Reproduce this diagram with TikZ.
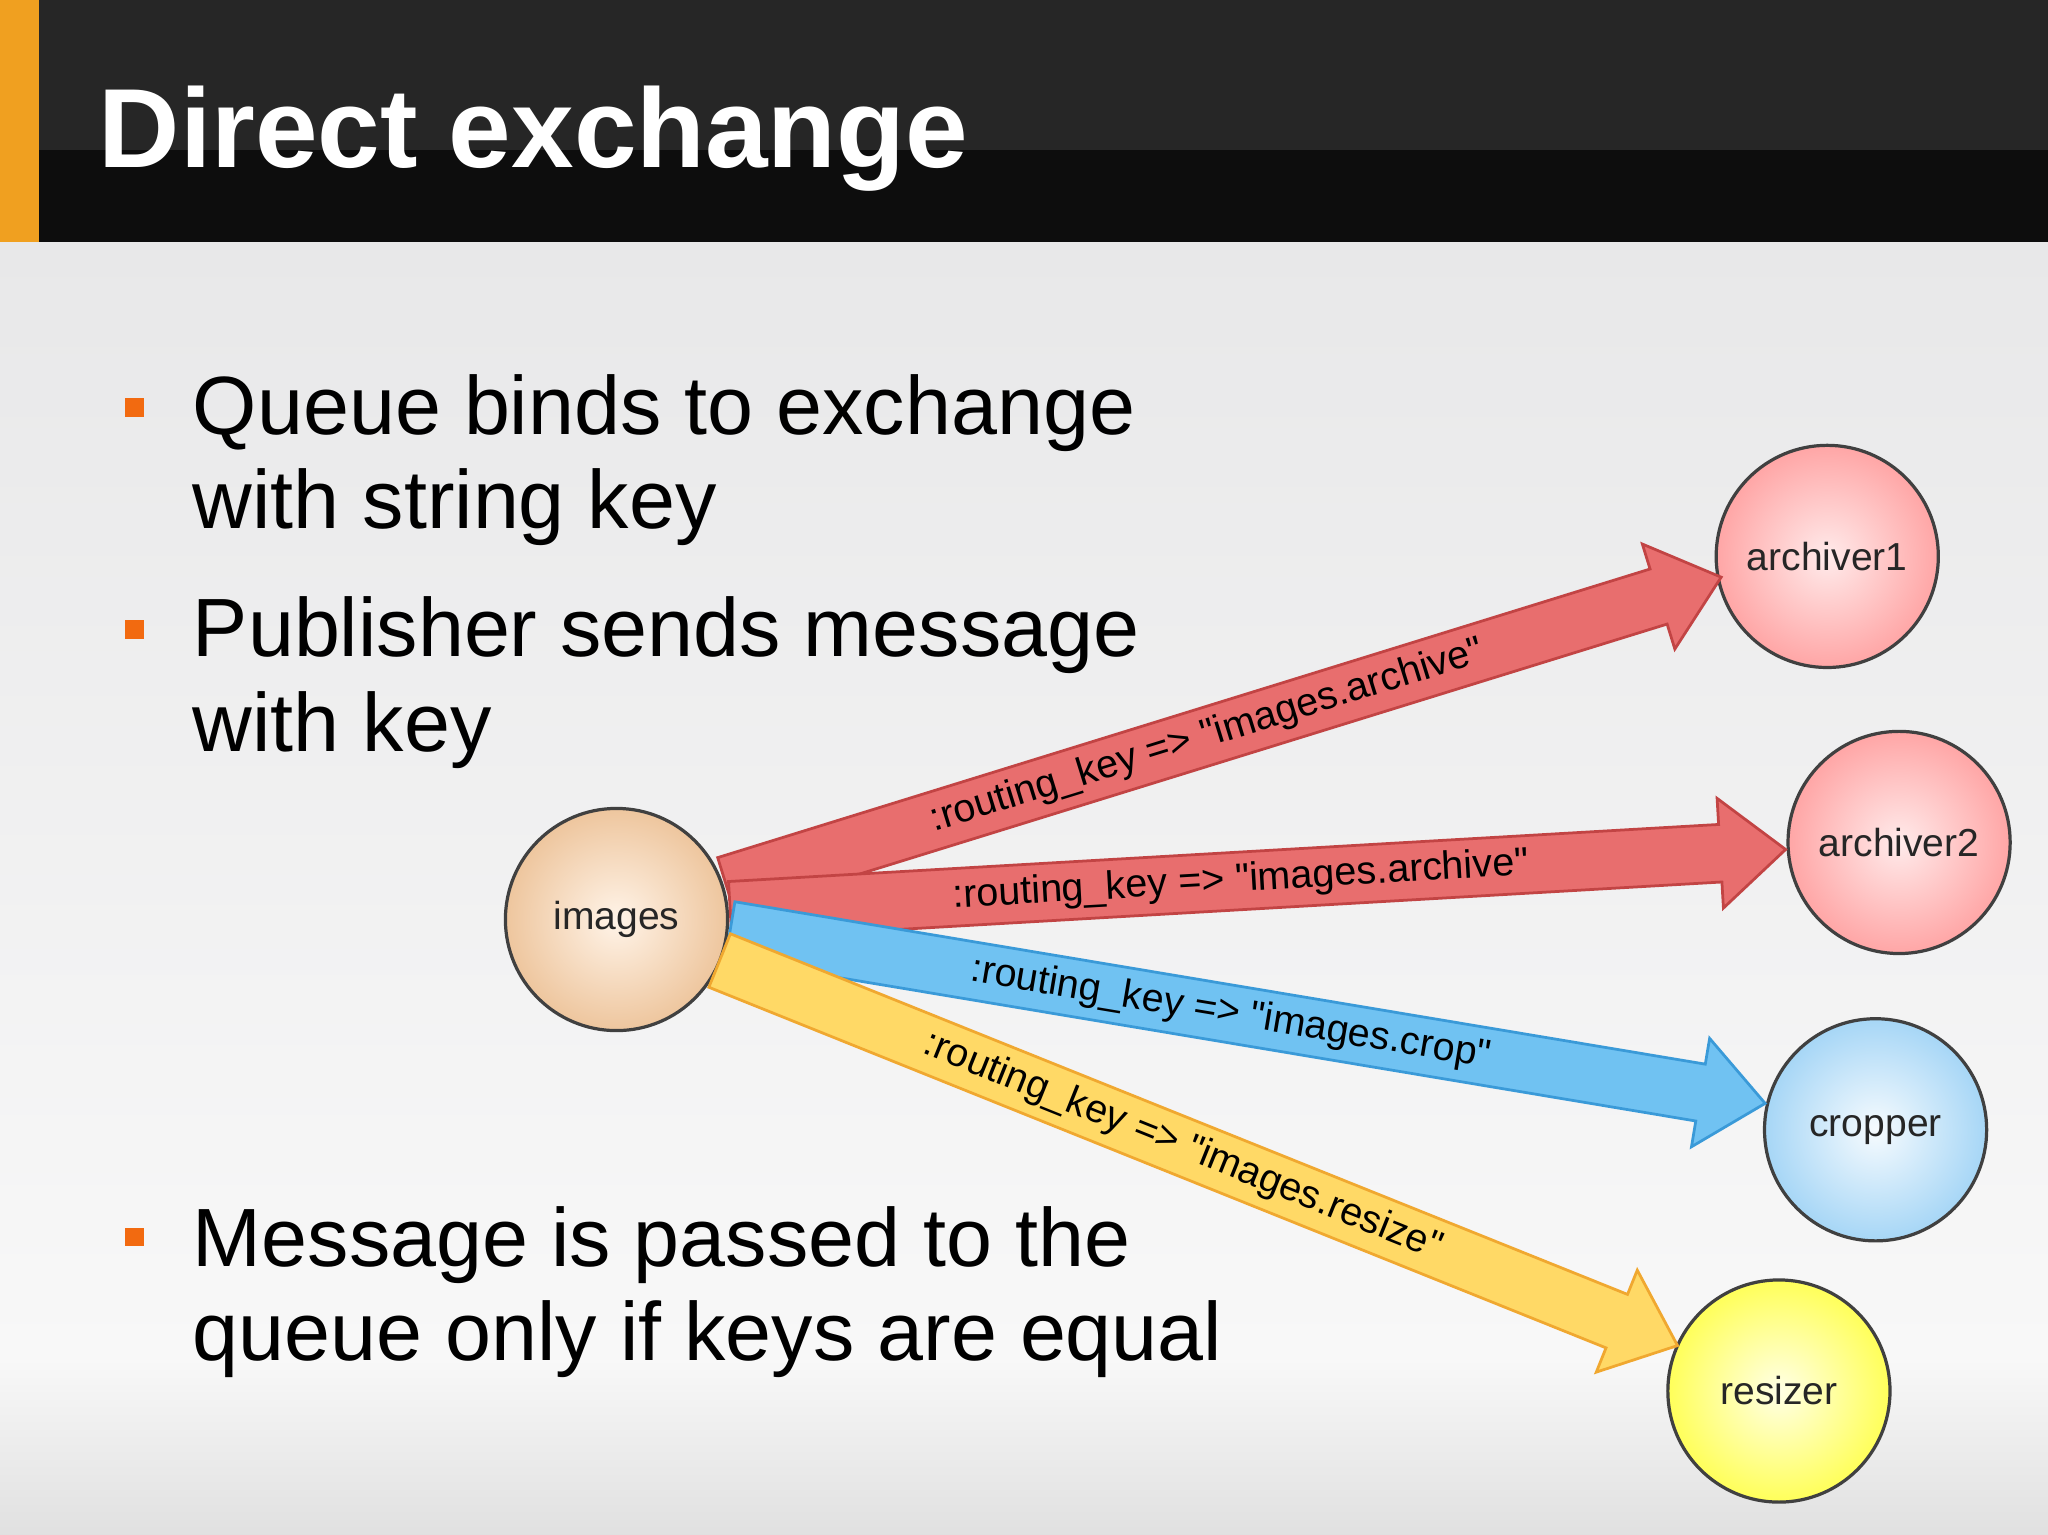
\documentclass[tikz,border=0pt]{standalone}
\usepackage{fontspec}
\setmainfont{Liberation Sans}
\usetikzlibrary{shapes.arrows}
\definecolor{bgtop}{HTML}{E8E8E9}
\definecolor{bgbot}{HTML}{F8F8F8}
\definecolor{orng}{HTML}{F0A020}
\definecolor{bul}{HTML}{F26A10}
\definecolor{redf}{HTML}{E86E6E}
\definecolor{redd}{HTML}{C24444}
\definecolor{bluf}{HTML}{70C2F2}
\definecolor{blud}{HTML}{3A9AD8}
\definecolor{yelf}{HTML}{FFD966}
\definecolor{yeld}{HTML}{F0A830}
\definecolor{crout}{HTML}{A6D6F6}
\newcommand{\qq}{\textquotedbl}
\begin{document}
\begin{tikzpicture}[x=0.01cm,y=-0.01cm,
  qnode/.style={circle,minimum size=1.7cm,draw=black!75,line width=0.7pt,font=\fontsize{8.5pt}{10pt}\selectfont,text=black!85},
  barrow/.style={single arrow,anchor=tail,minimum width=0.8cm,single arrow head extend=0.2cm,
     single arrow tip angle=80,inner xsep=0pt,inner ysep=0.06cm,text height=0.23cm,text depth=0.07cm,
     font=\fontsize{8.6pt}{10pt}\selectfont,line width=0.6pt},
  btext/.style={font=\fontsize{18pt}{22pt}\selectfont,anchor=base west,inner sep=0pt},
  bsq/.style={fill=bul,minimum size=0.14cm,inner sep=0pt}]
\useasboundingbox (0,0) rectangle (1568,1175);
\shade[top color=bgtop,bottom color=bgbot] (0,185) rectangle (1568,1040);
\shade[top color=bgbot,bottom color=black!12] (0,1040) rectangle (1568,1175);
\fill[black!95] (0,0) rectangle (1568,185);
\fill[black!85] (0,0) rectangle (1568,115);
\fill[orng] (0,0) rectangle (30,185);
\node[anchor=base west,inner sep=0pt,text=white,font=\fontsize{24.5pt}{28pt}\selectfont\bfseries] (title) at (75,128) {Direct exchange};
\node[bsq] (b1) at (103,312) {};
\node[btext] (t1) at (147,333) {Queue binds to exchange};
\node[btext] (t1b) at (147,405) {with string key};
\node[bsq] (b2) at (103,482) {};
\node[btext] (t2) at (147,503) {Publisher sends message};
\node[btext] (t2b) at (147,575) {with key};
\node[bsq] (b3) at (103,947) {};
\node[btext] (t3) at (147,970) {Message is passed to the};
\node[btext] (t3b) at (147,1042) {queue only if keys are equal};
\node[qnode,inner color=white!85!orange!60,outer color=orange!40!brown!45!white] (img) at (472,704) {images};
\node[qnode,inner color=red!8,outer color=red!35] (a1) at (1399,426) {archiver1};
\node[qnode,inner color=red!8,outer color=red!35] (a2) at (1454,645) {archiver2};
\node[qnode,inner color=white!90!crout,outer color=crout] (cr) at (1436,865) {cropper};
\node[qnode,inner color=yellow!10,outer color=yellow!65] (rs) at (1362,1065) {resizer};
\coordinate (s1) at (555,678);
\coordinate (s2) at (558,697);
\coordinate (s3) at (558,712);
\coordinate (s4) at (550,735);
\node[barrow,fill=redf,draw=redd,rotate=17.2,minimum height=7.97cm] (r1) at (s1) {:routing\_key => \qq images.archive\qq};
\node[barrow,fill=redf,draw=redd,rotate=3.3,minimum height=8.09cm] (r2) at (s2) {:routing\_key => \qq images.archive\qq};
\node[barrow,fill=bluf,draw=blud,rotate=-9.5,minimum height=8.03cm] (r3) at (s3) {:routing\_key => \qq images.crop\qq};
\node[barrow,fill=yelf,draw=yeld,rotate=-21.9,minimum height=7.9cm] (r4) at (s4) {:routing\_key => \qq images.resize\qq};
\end{tikzpicture}
\end{document}
